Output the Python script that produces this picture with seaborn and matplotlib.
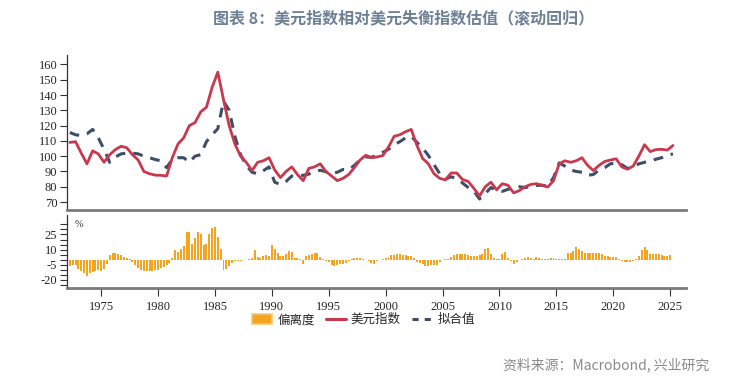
import numpy as np
import pandas as pd
import matplotlib
matplotlib.use("Agg")
import matplotlib.pyplot as plt
import seaborn as sns
from matplotlib.lines import Line2D
from matplotlib.patches import Patch

sns.set_style("white")
plt.rcParams['font.family'] = ['Noto Sans CJK SC', 'DejaVu Sans']

# 美元指数 / 拟合值, 半年频率 (1972.25 ... 2025.25)
dxy = [109, 109.5, 102, 95, 103.5, 101.5, 96, 101, 104.3, 106.5,
       105.5, 101, 97.5, 90, 88.5, 87.6, 87.5, 87, 99, 108,
       112, 120, 122, 129, 132, 145, 155, 137, 120, 108,
       100, 96, 90.6, 96, 97, 99, 91, 86, 90, 93,
       88, 84, 92, 93, 95, 90, 87, 84, 85.5, 88,
       92.5, 97.5, 100.6, 99, 99.5, 100.4, 106, 113, 114, 116,
       117.5, 107, 98.5, 95, 88.5, 85.5, 84.5, 89, 89, 84.8,
       83.5, 79, 74, 80, 83, 78, 82, 81, 76, 77.5,
       80, 81.5, 82, 81, 79.8, 84, 95, 97, 96, 97,
       99, 94, 90.6, 94, 96.5, 97.5, 98.3, 93, 91.5, 93.5,
       100, 107.5, 103, 104.3, 104.5, 104, 107]
fitted = [115.5, 114, 113.5, 114.6, 117.5, 112, 104.5, 96, 99.5, 101.5,
          102, 102, 101.5, 100, 99, 97.8, 97, 92.5, 98, 99,
          99, 96, 100, 101, 109.5, 114, 118, 136, 130, 113,
          101, 94, 89.5, 88.5, 90.5, 93, 83, 81.5, 83.5, 87,
          87, 87.5, 88.3, 90, 90.8, 89.8, 88.5, 89.5, 91.3, 91,
          94, 97.5, 99.5, 99.3, 100.5, 102.5, 104.5, 107.5, 109.5, 112,
          113, 109, 105.3, 100.5, 94.5, 88.5, 85, 86.5, 85.5, 82.5,
          79.5, 77.2, 72, 75.5, 79.5, 77.5, 77, 78.3, 79.2, 80,
          79.5, 80, 80.8, 81, 80.4, 86, 95.6, 93.5, 91, 90,
          89.5, 87.5, 88, 91, 92.5, 95, 95.5, 94.5, 92, 92.8,
          95, 96, 96.8, 98, 99, 100.5, 101.5]
years = np.arange(len(dxy)) * 0.5 + 1972.25

# 偏离度 (%), 季度 (1972.0 ... 2025.0)
deviation = [-6.5, -6, -5.5, -5, -9, -11, -13, -16, -13, -12,
             -11, -10, -11, -9, -4, 5, 6.5, 6.5, 5.5, 4.5,
             3, 2, 0.5, -2, -5, -8, -10, -11, -11.5, -11.5,
             -11, -10.5, -10, -8.5, -7, -5.5, -3.5, 2, 9.5, 8,
             11, 14, 27, 27, 16, 21, 27, 25, 14.5, 16,
             25, 31, 32, 22.6, 11, -9.7, -9, -6, -3, -1.5,
             -1, -1, -0.5, 0, 1, 2, 9.5, 2.5, 1.5, 4,
             4.5, 4, 14.5, 11, 6.5, 4, 3.5, 5.5, 8.5, 7.5,
             2, 1.5, 1, -4, 4, 5, 5.5, 6.5, 7, 2.5,
             0.5, -1, -2, -5, -6.5, -5, -4, -4, -3, -1.5,
             0.5, 1.5, 1.5, 1.5, 1, -0.5, -1, -3,
             -4, -1.5, -0.5, 0.5, 1.5, 3, 4.5, 5, 6, 5.5,
             5, 4.5, 4, 3.5, 1.5, -2, -3, -4.5, -6, -6,
             -5.5, -5.5, -5, -2, -0.5, 0.5, 0.5, 3, 5, 5.5,
             5.5, 6, 5.5, 4.5, 4, 4, 4, 5, 6, 11,
             11.5, 6, 2, 1, 0.5, 6, 7.5, 2, -1.5, -4,
             -2.5, -0.5, 0.5, 1.5, 2.5, 1.5, 1, 3, 1.5, 0.5,
             0.5, 0.5, 1.5, 2, 1, 0.5, 0.5, 1, 6.5, 7,
             9, 13, 11, 9, 7, 6.5, 6.5, 7, 7, 6.5,
             5.5, 4, 3.5, 3, 2.5, 3, 0.5, -1, -2, -2.5,
             -2.5, -1, 1, 4, 10, 13, 10, 6, 5.5, 5.5,
             5.5, 4.5, 3.5, 3.5, 4.5]
quarters = np.arange(len(deviation)) * 0.25 + 1972.0

c_red = '#C9384D'
c_dash = '#3E4E66'
c_bar = '#F4A41E'
c_spine = '#7a7a7a'

fig = plt.figure(figsize=(7.54, 3.83), dpi=100)
ax1 = fig.add_axes([0.0889, 0.4517, 0.821, 0.404])
ax2 = fig.add_axes([0.0889, 0.248, 0.821, 0.19])

sns.lineplot(x=years, y=fitted, ax=ax1, color=c_dash, linewidth=2.2, linestyle=(0, (3.2, 2.6)))
sns.lineplot(x=years, y=dxy, ax=ax1, color=c_red, linewidth=2.0)

sns.barplot(x=quarters, y=deviation, ax=ax2, native_scale=True, color=c_bar,
            width=0.7, linewidth=0, errorbar=None, saturation=1)

tick_font = dict(family='Liberation Serif', size=9)

for ax in (ax1, ax2):
    ax.set_xlim(1972.0, 2026.4)
    for s in ('top', 'right'):
        ax.spines[s].set_visible(False)
    ax.spines['left'].set_color('#333333')
    ax.spines['left'].set_linewidth(0.9)
    ax.spines['bottom'].set_color(c_spine)
    ax.spines['bottom'].set_linewidth(2.0)
    ax.set_xlabel('')
    ax.set_ylabel('')

ax1.set_ylim(64.8, 166)
ax1.set_yticks(range(70, 161, 10))
ax1.set_yticklabels([str(v) for v in range(70, 161, 10)], fontdict=tick_font)
ax1.tick_params(axis='y', direction='out', length=5, width=0.8, color='#333333', left=True, pad=2)
ax1.set_xticks([])

ax2.set_ylim(-28, 44)
yt = list(range(-25, 40, 5))
ax2.set_yticks(yt)
ax2.set_yticklabels([str(v) if v in (25, 10, -5, -20) else '' for v in yt], fontdict=tick_font)
ax2.tick_params(axis='y', direction='out', length=5, width=0.8, color='#333333', left=True, pad=2)
xt = list(range(1975, 2026, 5))
ax2.set_xticks(xt)
ax2.set_xticklabels([str(v) for v in xt], fontdict=tick_font)
ax2.tick_params(axis='x', direction='out', length=6, width=0.8, color='#333333', bottom=True, pad=3)
ax2.text(0.012, 0.84, '%', transform=ax2.transAxes, fontsize=7.5, color='#333333',
         family='Liberation Serif')

fig.text(0.535, 0.952, '图表 8：美元指数相对美元失衡指数估值（滚动回归）', ha='center', va='center',
         fontsize=11.5, fontweight='bold', color='#6E8096')

handles = [Patch(facecolor=c_bar, edgecolor='#F7C874', linewidth=1.2),
           Line2D([0], [0], color=c_red, linewidth=2.2),
           Line2D([0], [0], color=c_dash, linewidth=2.2, linestyle=(0, (2, 2)))]
fig.legend(handles, ['偏离度', '美元指数', '拟合值'], loc='center', bbox_to_anchor=(0.482, 0.165),
           ncol=3, frameon=False, fontsize=9, handlelength=1.6, handletextpad=0.4,
           columnspacing=0.9, handleheight=0.8)

fig.text(0.667, 0.046, '资料来源：Macrobond, 兴业研究', ha='left', va='center',
         fontsize=10, color='#8a8a8a')

fig.savefig('out.png', dpi=100)
